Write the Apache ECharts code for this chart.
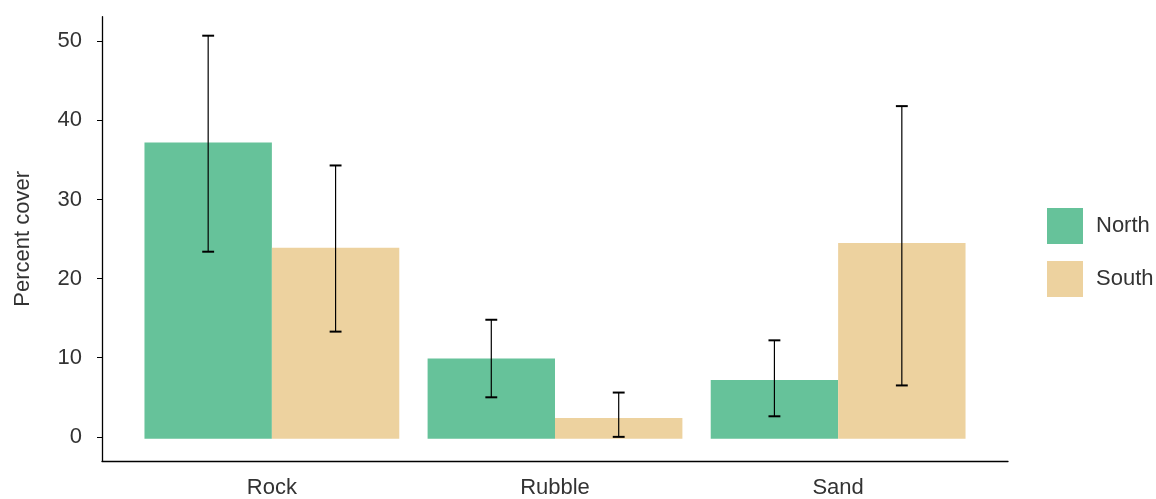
<!DOCTYPE html>
<html>
<head>
<meta charset="utf-8">
<script src="https://cdn.jsdelivr.net/npm/echarts@6/dist/echarts.min.js"></script>
<style>html,body{margin:0;padding:0;background:#fff}#c{width:1156px;height:499px}</style>
</head>
<body>
<div id="c"></div>
<script>
const categories = ['Rock', 'Rubble', 'Sand'];
const groups = ['North', 'South'];
const northMean = [37.2, 9.9, 7.2];
const northLow = [23.4, 5.0, 2.6];
const northHigh = [50.7, 14.8, 12.2];
const southMean = [23.9, 2.4, 24.5];
const southLow = [13.3, 0.0, 6.5];
const southHigh = [34.3, 5.6, 41.8];
const yTicks = [0, 10, 20, 30, 40, 50];

const colors = ['#66C29A', '#EDD29F'];
const BAR_W = 0.45;
const CAP_W = 0.042;
const FONT = '"Liberation Sans", Arial, sans-serif';
const FS = 22;

function buildData(mean, low, high, gi) {
  return categories.map((c, i) => {
    const x = i + 1 + (gi === 0 ? -BAR_W / 2 : BAR_W / 2);
    return [x, mean[i], low[i], high[i]];
  });
}

function renderItem(params, api) {
  const x = api.value(0), v = api.value(1), lo = api.value(2), hi = api.value(3);
  const a = api.coord([x - BAR_W / 2, 0]);
  const b = api.coord([x + BAR_W / 2, v]);
  const c = api.coord([x, lo]);
  const d = api.coord([x, hi]);
  const capHalf = (api.coord([x + CAP_W / 2, 0])[0] - api.coord([x - CAP_W / 2, 0])[0]) / 2;
  return {
    type: 'group',
    children: [
      { type: 'rect', shape: { x: a[0], y: b[1], width: b[0] - a[0], height: a[1] - b[1] + 2 },
        style: { fill: api.visual('color') } },
      { type: 'line', shape: { x1: c[0], y1: c[1], x2: d[0], y2: d[1] },
        style: { stroke: '#000', lineWidth: 1.2 } },
      { type: 'line', shape: { x1: c[0] - capHalf, y1: c[1], x2: c[0] + capHalf, y2: c[1] },
        style: { stroke: '#000', lineWidth: 2 } },
      { type: 'line', shape: { x1: d[0] - capHalf, y1: d[1], x2: d[0] + capHalf, y2: d[1] },
        style: { stroke: '#000', lineWidth: 2 } }
    ]
  };
}

const chart = echarts.init(document.getElementById('c'), null, { renderer: 'canvas' });
chart.setOption({
  animation: false,
  backgroundColor: '#fff',
  grid: { left: 102, right: 148, top: 16.7, bottom: 37.3, containLabel: false },
  xAxis: {
    type: 'value', min: 0.4, max: 3.6,
    axisLine: { show: true, onZero: false, lineStyle: { color: '#000', width: 1.3 } },
    axisTick: { show: false },
    splitLine: { show: false },
    axisLabel: {
      customValues: [1, 2, 3],
      formatter: v => categories[Math.round(v) - 1],
      fontSize: FS, color: '#333', fontFamily: FONT, margin: 16
    }
  },
  yAxis: {
    type: 'value', min: -3.05, max: 53.1,
    name: 'Percent cover', nameLocation: 'middle', nameGap: 68,
    nameTextStyle: { fontSize: FS, color: '#333', fontFamily: FONT },
    axisLine: { show: true, onZero: false, lineStyle: { color: '#000', width: 1.3 } },
    axisTick: { show: true, customValues: yTicks, length: 5, lineStyle: { color: '#000', width: 1 } },
    splitLine: { show: false },
    axisLabel: { customValues: yTicks, fontSize: FS, color: '#333', fontFamily: FONT, margin: 20 }
  },
  legend: {
    data: groups, orient: 'vertical', left: 1047, top: 208,
    itemWidth: 36, itemHeight: 36, itemGap: 17, icon: 'rect', padding: 0,
    textStyle: { fontSize: FS, color: '#333', fontFamily: FONT, padding: [0, 0, 0, 8] }
  },
  series: [
    { name: groups[0], type: 'custom', renderItem, itemStyle: { color: colors[0] },
      encode: { x: 0, y: [1, 2, 3] }, data: buildData(northMean, northLow, northHigh, 0) },
    { name: groups[1], type: 'custom', renderItem, itemStyle: { color: colors[1] },
      encode: { x: 0, y: [1, 2, 3] }, data: buildData(southMean, southLow, southHigh, 1) }
  ]
});
</script>
</body>
</html>
